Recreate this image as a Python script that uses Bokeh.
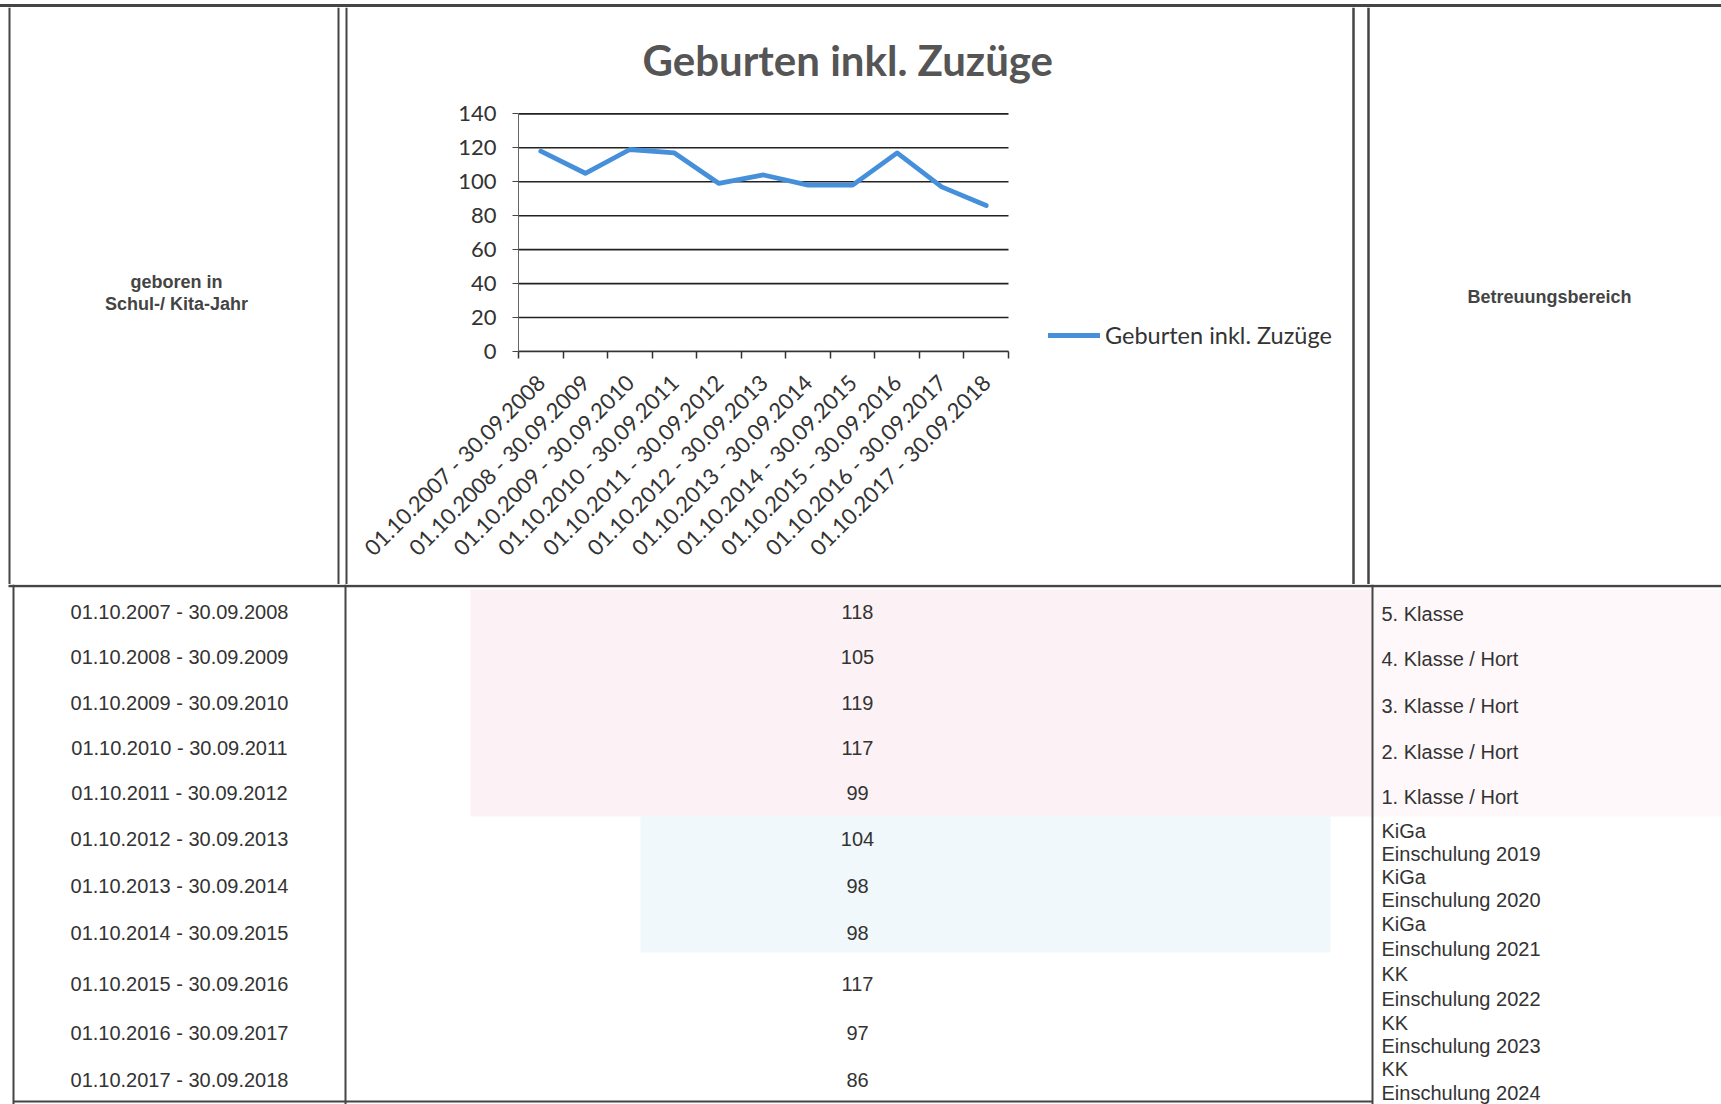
import math
from bokeh.plotting import figure
from bokeh.layouts import column, row
from bokeh.models import Range1d, FixedTicker, Title, Legend, LegendItem, Div, Spacer
from bokeh.core.properties import value
from bokeh.embed import file_html
from bokeh.resources import INLINE

# ---------------- data ----------------
periods = [
    "01.10.2007 - 30.09.2008", "01.10.2008 - 30.09.2009", "01.10.2009 - 30.09.2010",
    "01.10.2010 - 30.09.2011", "01.10.2011 - 30.09.2012", "01.10.2012 - 30.09.2013",
    "01.10.2013 - 30.09.2014", "01.10.2014 - 30.09.2015", "01.10.2015 - 30.09.2016",
    "01.10.2016 - 30.09.2017", "01.10.2017 - 30.09.2018",
]
births = [118, 105, 119, 117, 99, 104, 98, 98, 117, 97, 86]
care_first = ["5. Klasse", "4. Klasse / Hort", "3. Klasse / Hort", "2. Klasse / Hort",
              "1. Klasse / Hort", "KiGa", "KiGa", "KiGa", "KK", "KK", "KK"]
care_second = ["", "", "", "", "", "Einschulung 2019", "Einschulung 2020",
               "Einschulung 2021", "Einschulung 2022", "Einschulung 2023", "Einschulung 2024"]
y_ticks = [0, 20, 40, 60, 80, 100, 120, 140]
chart_title = "Geburten inkl. Zuzüge"
series_name = "Geburten inkl. Zuzüge"
header_left = ["geboren in", "Schul-/ Kita-Jahr"]
header_right = "Betreuungsbereich"

# ---------------- layout constants (pixels) ----------------
W = 1721
HEAD_H = 577
BODY_H = 520
LEFT_W = 349
CHART_W = 1000
RIGHT_W = W - LEFT_W - CHART_W
CH_LEFT = 169          # frame start inside the chart canvas
PLOT_W = 490           # width of the drawn plot area (the rest holds the legend)
LINE = "#454545"
TXT = "#333333"
TFONT = value("Liberation Sans")
row_y = [27, 72, 118, 163, 208, 254, 301, 348, 399, 448, 495]
care_y1 = [29, 74, 121, 167, 212, 246, 292, 339, 389, 438, 484]
care_y2 = [0, 0, 0, 0, 0, 269, 315, 364, 414, 461, 508]


def blank(w, h):
    f = figure(width=w, height=h, x_range=Range1d(0, w), y_range=Range1d(h, 0),
               output_backend="svg", toolbar_location=None, min_border=0,
               x_axis_location=None, y_axis_location=None)
    f.grid.visible = False
    f.outline_line_color = None
    f.background_fill_color = "white"
    f.border_fill_color = "white"
    f.frame_align = False
    return f


# top border of the table
top_gap = Spacer(width=W, height=4, margin=0)
top_rule = Div(text="", width=W, height=3, margin=0,
               styles={"background-color": LINE})

# left header cell
left = blank(LEFT_W, HEAD_H)
left.segment(x0=[9, 338, 346], y0=[0, 0, 0], x1=[9, 338, 346], y1=[HEAD_H] * 3,
             line_color=LINE, line_width=2)
left.text(x=[176, 176], y=[274, 296], text=header_left, text_align="center",
          text_baseline="middle", text_font=TFONT,
          text_font_style="bold", text_font_size="18px", text_color="#444444")

# right header cell
right = blank(RIGHT_W, HEAD_H)
right.segment(x0=[4, 19], y0=[0, 0], x1=[4, 19], y1=[HEAD_H] * 2,
              line_color=LINE, line_width=2.5)
right.text(x=[200], y=[289], text=[header_right], text_align="center",
           text_baseline="middle", text_font=TFONT,
           text_font_style="bold", text_font_size="18px", text_color="#444444")

# chart
n = len(periods)
centers = [i + 0.5 for i in range(n)]
x_end = n * (CHART_W - CH_LEFT) / PLOT_W
chart = figure(width=CHART_W, height=HEAD_H, x_range=Range1d(0, x_end),
               y_range=Range1d(0, 140.8), output_backend="svg", toolbar_location=None,
               min_border_left=CH_LEFT, min_border_right=0, min_border_top=105,
               min_border_bottom=233)
chart.frame_align = False
chart.background_fill_color = "white"
chart.border_fill_color = "white"
chart.outline_line_color = None
chart.title = Title(text=chart_title, align="left", offset=124, vertical_align="top",
                    text_font="Lato", text_font_style="bold",
                    text_font_size="42px", text_color="#555555", standoff=52)
chart.grid.visible = False

chart.yaxis.ticker = FixedTicker(ticks=y_ticks)
chart.yaxis.major_label_text_font = "Lato"
chart.yaxis.major_label_text_font_size = "22px"
chart.yaxis.major_label_text_color = TXT
chart.yaxis.major_tick_in = 0
chart.yaxis.major_tick_out = 6
chart.yaxis.minor_tick_line_color = None
chart.yaxis.axis_line_color = "#666666"
chart.yaxis.major_tick_line_color = "#444444"
chart.yaxis.major_label_standoff = 16
chart.yaxis.bounds = (0, 140)

chart.xaxis.bounds = (0, n)
chart.xaxis.ticker = FixedTicker(ticks=centers, minor_ticks=list(range(n + 1)))
chart.xaxis.major_label_overrides = {c: lab for c, lab in zip(centers, periods)}
chart.xaxis.major_label_orientation = math.pi / 4
chart.xaxis.major_label_text_font = "Lato"
chart.xaxis.major_label_text_font_size = "22px"
chart.xaxis.major_label_text_color = TXT
chart.xaxis.major_tick_in = 0
chart.xaxis.major_tick_out = 0
chart.xaxis.minor_tick_in = 0
chart.xaxis.minor_tick_out = 7
chart.xaxis.minor_tick_line_color = "#333333"
chart.xaxis.minor_tick_line_width = 1.5
chart.xaxis.axis_line_color = "#333333"
chart.xaxis.axis_line_width = 1.5
chart.xaxis.major_label_standoff = 20

# horizontal gridlines across the category span only
chart.segment(x0=[0] * len(y_ticks), x1=[n] * len(y_ticks), y0=y_ticks, y1=y_ticks,
              line_color="#222222", line_width=1.6)

ln = chart.line(x=centers, y=births, line_color="#4690db", line_width=4.8,
                line_join="round", line_cap="round")
lg = Legend(items=[LegendItem(label=series_name, renderers=[ln])],
            location=(PLOT_W + 40, 0), padding=0, margin=0, border_line_color=None,
            background_fill_alpha=0, glyph_width=52, glyph_height=32,
            label_standoff=5, label_text_font="Lato", label_text_font_size="23.5px",
            label_text_color=TXT)
chart.add_layout(lg, "center")

# table body
body = blank(W, BODY_H)
body.quad(left=[470, 1372], right=[1372, W], top=[5, 5], bottom=[232, 232],
          fill_color="#f8dce7", fill_alpha=[0.4, 0.2], line_color=None)
body.quad(left=[640], right=[1330], top=[232], bottom=[368],
          fill_color="#dceef8", fill_alpha=0.4, line_color=None)
body.segment(x0=[8], y0=[1.5], x1=[W], y1=[1.5], line_color=LINE, line_width=2.5)
body.segment(x0=[13, 345, 1372], y0=[0, 0, 0], x1=[13, 345, 1372], y1=[BODY_H] * 3,
             line_color=LINE, line_width=2)
body.segment(x0=[13], y0=[517], x1=[1372], y1=[517], line_color=LINE, line_width=2)
body.text(x=[179] * n, y=row_y, text=periods, text_align="center",
          text_baseline="middle", text_font=TFONT, text_font_size="20px",
          text_color=TXT)
body.text(x=[857] * n, y=row_y, text=[str(b) for b in births],
          text_align="center", text_baseline="middle", text_font=TFONT,
          text_font_size="20px", text_color=TXT)
body.text(x=[1381] * n, y=care_y1, text=care_first, text_align="left",
          text_baseline="middle", text_font=TFONT, text_font_size="20px",
          text_color=TXT)
sec_idx = [i for i, s in enumerate(care_second) if s]
body.text(x=[1381] * len(sec_idx), y=[care_y2[i] for i in sec_idx],
          text=[care_second[i] for i in sec_idx], text_align="left",
          text_baseline="middle", text_font=TFONT, text_font_size="20px",
          text_color=TXT)

layout = column(top_gap, top_rule, row(left, chart, right, spacing=0), body, spacing=0)
open("out.html", "w").write(file_html(layout, INLINE))
